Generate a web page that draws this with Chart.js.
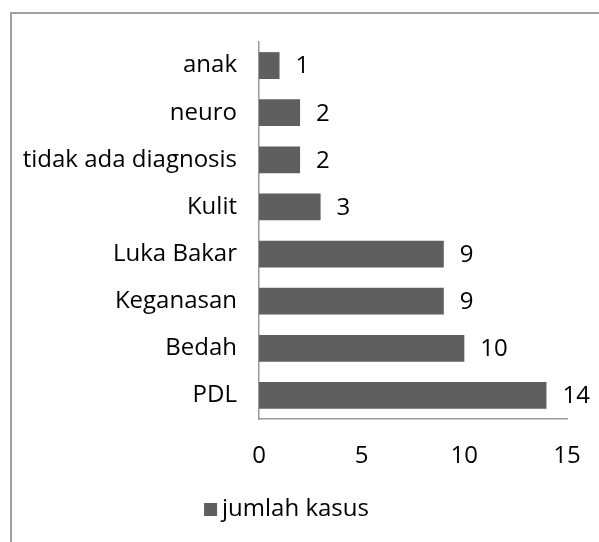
<!DOCTYPE html>
<html>
<head>
<meta charset="utf-8">
<script src="https://cdn.jsdelivr.net/npm/chart.js@4"></script>
<style>
  html, body { margin: 0; padding: 0; background: #fff; }
  #wrap { position: relative; width: 599px; height: 542px; overflow: hidden; }
  #frame { position: absolute; left: 10px; top: 12px; width: 700px; height: 700px; border: 2px solid #a0a0a0; box-sizing: border-box; }
  canvas { position: absolute; left: 0; top: 0; }
</style>
</head>
<body>
<div id="wrap">
  <div id="frame"></div>
  <canvas id="chart" width="599" height="542"></canvas>
</div>
<script>
  // categories top to bottom
  const categories = ['anak', 'neuro', 'tidak ada diagnosis', 'Kulit', 'Luka Bakar', 'Keganasan', 'Bedah', 'PDL'];
  const jumlahKasus = [1, 2, 2, 3, 9, 9, 10, 14];
  const seriesName = 'jumlah kasus';
  const xTicks = [0, 5, 10, 15];

  const barColor = '#5f5f5f';
  const fontFamily = '"Open Sans", sans-serif';
  const fontSize = 24;

  // legend marker: square sitting close to the text
  const marker = document.createElement('canvas');
  marker.width = 18;
  marker.height = 13;
  const mctx = marker.getContext('2d');
  mctx.fillStyle = barColor;
  mctx.fillRect(3, 0, 13, 13);

  // draws value next to each bar end
  const valueLabels = {
    id: 'valueLabels',
    afterDatasetsDraw(chart) {
      const ctx = chart.ctx;
      const meta = chart.getDatasetMeta(0);
      ctx.save();
      ctx.font = fontSize + 'px ' + fontFamily;
      ctx.fillStyle = '#000';
      ctx.textAlign = 'left';
      ctx.textBaseline = 'middle';
      meta.data.forEach(function(bar, i) {
        ctx.fillText(String(jumlahKasus[i]), bar.x + 16, bar.y + 1);
      });
      ctx.restore();
    }
  };

  new Chart(document.getElementById('chart'), {
    type: 'bar',
    data: {
      labels: categories,
      datasets: [{
        label: seriesName,
        data: jumlahKasus,
        backgroundColor: barColor,
        barPercentage: 0.57,
        categoryPercentage: 1
      }]
    },
    options: {
      indexAxis: 'y',
      responsive: false,
      animation: false,
      layout: { padding: { left: 12, right: 32, top: 42, bottom: 11 } },
      scales: {
        x: {
          min: 0,
          max: 15,
          afterBuildTicks: function(scale) {
            scale.ticks = xTicks.map(v => ({ value: v }));
          },
          afterFit: function(scale) {
            scale.height = 68;
            scale.paddingLeft = 0;
            scale.paddingRight = 0;
          },
          grid: { display: false, drawTicks: false },
          border: { display: true, color: '#999', width: 1.5 },
          ticks: { color: '#000', padding: 23, font: { family: fontFamily, size: fontSize } }
        },
        y: {
          afterFit: function(scale) { scale.width = 247; },
          grid: { display: false, drawTicks: false },
          border: { display: true, color: '#999', width: 1.5 },
          ticks: { color: '#000', padding: 22, font: { family: fontFamily, size: fontSize } }
        }
      },
      plugins: {
        legend: {
          position: 'bottom',
          labels: {
            color: '#000',
            usePointStyle: true,
            pointStyle: marker,
            pointStyleWidth: 0.01,
            padding: 10,
            font: { family: fontFamily, size: fontSize }
          }
        },
        tooltip: { enabled: false }
      }
    },
    plugins: [valueLabels]
  });
</script>
</body>
</html>
